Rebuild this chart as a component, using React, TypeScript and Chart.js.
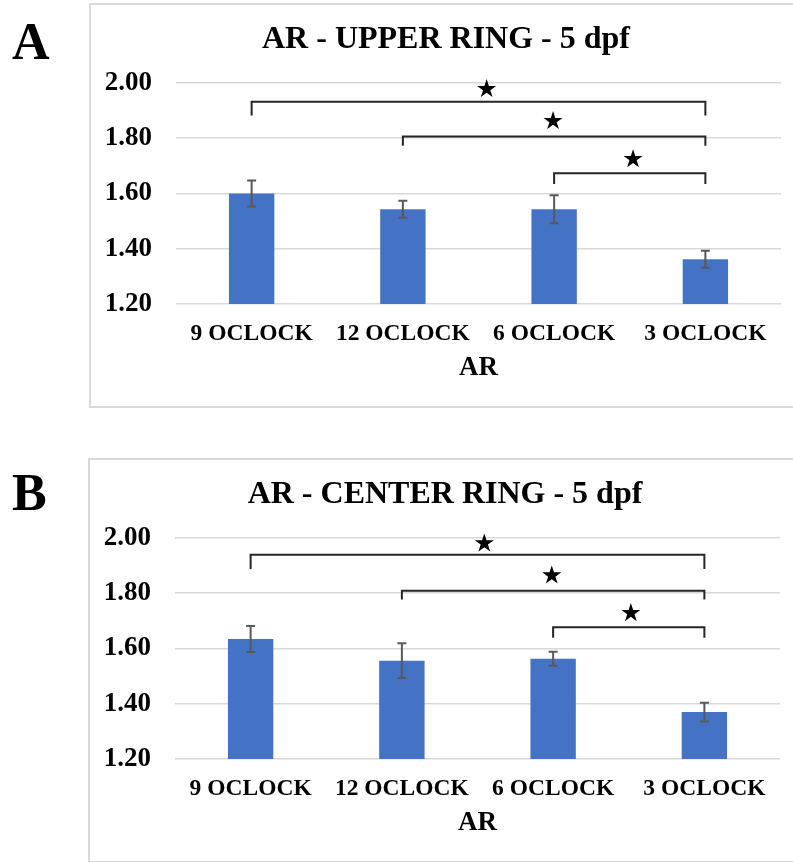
import React, { useEffect, useRef } from 'react';
import { Chart, registerables } from 'chart.js';

Chart.register(...registerables);

// ---------- data ----------
const categories = ['9 OCLOCK', '12 OCLOCK', '6 OCLOCK', '3 OCLOCK'];
const yTickValues = [1.2, 1.4, 1.6, 1.8, 2.0];
const xAxisTitle = 'AR';

const upperLetter = 'A';
const upperTitle = 'AR - UPPER RING - 5 dpf';
const upperMeans = [1.6, 1.543, 1.543, 1.362];
const upperErrors = [0.047, 0.031, 0.051, 0.031];
const upperBracketFrom = [0, 1, 2];
const upperBracketTo = [3, 3, 3];
const upperBracketLevel = [1.932, 1.806, 1.673];
const upperBracketLeg = [1.882, 1.773, 1.634];
const upperStarAt = [1.554, 1.993, 2.522];
const upperStarLevel = [1.982, 1.866, 1.728];

const centerLetter = 'B';
const centerTitle = 'AR - CENTER RING - 5 dpf';
const centerMeans = [1.634, 1.556, 1.563, 1.37];
const centerErrors = [0.047, 0.063, 0.025, 0.034];
const centerBracketFrom = [0, 1, 2];
const centerBracketTo = [3, 3, 3];
const centerBracketLevel = [1.939, 1.809, 1.677];
const centerBracketLeg = [1.888, 1.777, 1.639];
const centerStarAt = [1.545, 1.991, 2.514];
const centerStarLevel = [1.984, 1.868, 1.732];

const FONT = '"Liberation Serif", "Times New Roman", Times, serif';
const CANVAS_W = 715;
const CANVAS_H = 401;

function drawStar(ctx: CanvasRenderingContext2D, cx: number, cy: number, R: number) {
  const r = R * 0.382;
  ctx.beginPath();
  for (let i = 0; i < 10; i++) {
    const rad = i % 2 === 0 ? R : r;
    const a = -Math.PI / 2 + (i * Math.PI) / 5;
    const x = cx + rad * Math.cos(a);
    const y = cy + rad * Math.sin(a);
    if (i === 0) ctx.moveTo(x, y);
    else ctx.lineTo(x, y);
  }
  ctx.closePath();
  ctx.fillStyle = '#000';
  ctx.fill();
}

type PanelProps = {
  left: number;
  top: number;
  title: string;
  means: number[];
  errors: number[];
  bFrom: number[];
  bTo: number[];
  bLevel: number[];
  bLeg: number[];
  starAt: number[];
  starLevel: number[];
};

function Panel(p: PanelProps) {
  const ref = useRef<HTMLCanvasElement>(null);
  useEffect(() => {
    const overlay = {
      id: 'overlay',
      afterDatasetsDraw(chart: any) {
        const ctx = chart.ctx as CanvasRenderingContext2D;
        const xs = chart.scales.x;
        const ys = chart.scales.y;
        const area = chart.chartArea;
        const meta = chart.getDatasetMeta(0);
        ctx.save();
        // error bars
        ctx.strokeStyle = '#595959';
        ctx.lineWidth = 2;
        meta.data.forEach((el: any, i: number) => {
          const x = el.x;
          const yt = ys.getPixelForValue(p.means[i] + p.errors[i]);
          const yb = ys.getPixelForValue(p.means[i] - p.errors[i]);
          ctx.beginPath();
          ctx.moveTo(x, yt);
          ctx.lineTo(x, yb);
          ctx.moveTo(x - 4.5, yt);
          ctx.lineTo(x + 4.5, yt);
          ctx.moveTo(x - 4.5, yb);
          ctx.lineTo(x + 4.5, yb);
          ctx.stroke();
        });
        // significance brackets
        ctx.strokeStyle = '#262626';
        ctx.lineWidth = 2;
        p.bFrom.forEach((f, i) => {
          const x1 = xs.getPixelForValue(f);
          const x2 = xs.getPixelForValue(p.bTo[i]);
          const y = ys.getPixelForValue(p.bLevel[i]);
          const yl = ys.getPixelForValue(p.bLeg[i]);
          ctx.beginPath();
          ctx.moveTo(x1, yl);
          ctx.lineTo(x1, y);
          ctx.lineTo(x2, y);
          ctx.lineTo(x2, yl);
          ctx.stroke();
          drawStar(ctx, xs.getPixelForValue(p.starAt[i]), ys.getPixelForValue(p.starLevel[i]) + 1, 10);
        });
        // chart title
        ctx.fillStyle = '#000';
        ctx.textAlign = 'center';
        ctx.textBaseline = 'alphabetic';
        ctx.font = `bold 32px ${FONT}`;
        ctx.fillText(p.title, 355, 43);
        // x axis title
        ctx.font = `bold 27px ${FONT}`;
        ctx.fillText(xAxisTitle, (area.left + area.right) / 2, 370);
        ctx.restore();
      },
    };

    const chart = new Chart(ref.current as HTMLCanvasElement, {
      type: 'bar',
      data: {
        labels: categories,
        datasets: [
          {
            data: p.means,
            backgroundColor: '#4472C4',
            borderWidth: 0,
            barPercentage: 0.3,
            categoryPercentage: 1,
          },
        ],
      },
      options: {
        responsive: false,
        animation: false,
        devicePixelRatio: 1,
        layout: { padding: { left: 0, right: CANVAS_W - 690, top: 78, bottom: CANVAS_H - 299 - 60 } },
        plugins: {
          legend: { display: false },
          tooltip: { enabled: false },
          title: { display: false },
        },
        scales: {
          x: {
            grid: { display: false, drawTicks: false },
            border: { display: false },
            afterFit: (s: any) => {
              s.height = 60;
            },
            ticks: {
              color: '#000',
              font: { family: FONT, size: 23.5, weight: 'bold' },
              padding: 16,
              maxRotation: 0,
              autoSkip: false,
            },
          },
          y: {
            min: 1.2,
            max: 2.0,
            afterBuildTicks: (s: any) => {
              s.ticks = yTickValues.map((v) => ({ value: v }));
            },
            afterFit: (s: any) => {
              s.width = 85;
            },
            grid: { color: '#d9d9d9', lineWidth: 1.5, drawTicks: false },
            border: { display: false },
            ticks: {
              color: '#000',
              padding: 24,
              font: { family: FONT, size: 27, weight: 'bold' },
              callback: (v: any) => Number(v).toFixed(2),
            },
          },
        },
      } as any,
      plugins: [overlay],
    });
    return () => chart.destroy();
  }, []);

  return (
    <div
      style={{
        position: 'absolute',
        left: p.left,
        top: p.top,
        width: CANVAS_W,
        height: CANVAS_H,
        border: '2px solid #d9d9d9',
        background: '#fff',
      }}
    >
      <canvas
        ref={ref}
        width={CANVAS_W}
        height={CANVAS_H}
        style={{ display: 'block', width: CANVAS_W, height: CANVAS_H }}
      />
    </div>
  );
}

const letterStyle: React.CSSProperties = {
  position: 'absolute',
  left: 12,
  fontFamily: FONT,
  fontWeight: 'bold',
  fontSize: 52,
  lineHeight: '52px',
  color: '#000',
};

export default function App() {
  return (
    <div
      style={{
        position: 'absolute',
        left: 0,
        top: 0,
        width: 793,
        height: 862,
        overflow: 'hidden',
        background: '#fff',
      }}
    >
      <div style={{ ...letterStyle, top: 15.5 }}>{upperLetter}</div>
      <div style={{ ...letterStyle, top: 466.5 }}>{centerLetter}</div>
      <Panel
        left={89}
        top={3}
        title={upperTitle}
        means={upperMeans}
        errors={upperErrors}
        bFrom={upperBracketFrom}
        bTo={upperBracketTo}
        bLevel={upperBracketLevel}
        bLeg={upperBracketLeg}
        starAt={upperStarAt}
        starLevel={upperStarLevel}
      />
      <Panel
        left={88}
        top={458}
        title={centerTitle}
        means={centerMeans}
        errors={centerErrors}
        bFrom={centerBracketFrom}
        bTo={centerBracketTo}
        bLevel={centerBracketLevel}
        bLeg={centerBracketLeg}
        starAt={centerStarAt}
        starLevel={centerStarLevel}
      />
    </div>
  );
}
